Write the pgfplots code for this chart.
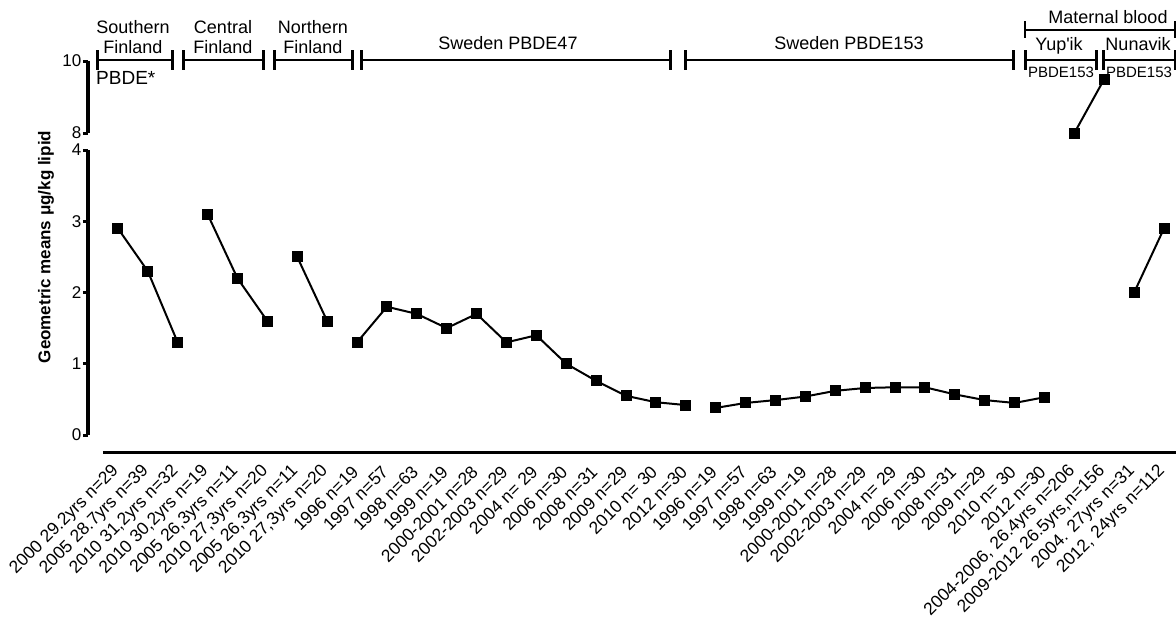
\documentclass[border=0pt]{standalone}
\usepackage{pgfplots}
\pgfplotsset{compat=1.18}
\usepackage{fontspec}
\setmainfont{Liberation Sans}
\begin{document}
\begin{tikzpicture}
\path[use as bounding box] (0bp,0bp) rectangle (1176bp,-630bp);
\pgfplotsset{
 dat/.style={black, solid, line width=2bp, mark=square*, mark size=4.5bp, mark options={solid, fill=black}},
 common/.style={scale only axis, width=1088bp, xmin=0, xmax=36.4, clip=false,
   axis line style={draw=none}, ytick pos=left, tick align=outside,
   major tick length=5bp, ytick style={line width=3bp, black},
   xtick style={draw=none},
   /pgf/number format/assume math mode=true,
   ticklabel style={font=\fontsize{17bp}{20bp}\selectfont},
   yticklabel style={inner sep=1.5bp},
 }
}
\begin{axis}[common, at={(88bp,-452bp)}, anchor=south west, height=302bp,
  ymin=-0.2386, ymax=4, ytick={0,1,2,3,4},
  xtick={1,...,36},
  xticklabels={{2000 29.2yrs n=29},{2005 28.7yrs n=39},{2010 31,2yrs n=32},{2010 30,2yrs n=19},{2005 26,3yrs n=11},{2010 27,3yrs n=20},{2005 26,3yrs n=11},{2010 27,3yrs n=20},
  {1996 n=19},{1997 n=57},{1998 n=63},{1999 n=19},{2000-2001 n=28},{2002-2003 n=29},{2004 n= 29},{2006 n=30},{2008 n=31},{2009 n=29},{2010 n= 30},{2012 n=30},
  {1996 n=19},{1997 n=57},{1998 n=63},{1999 n=19},{2000-2001 n=28},{2002-2003 n=29},{2004 n= 29},{2006 n=30},{2008 n=31},{2009 n=29},{2010 n= 30},{2012 n=30},
  {2004-2006, 26.4yrs n=206},{2009-2012 26.5yrs,n=156},{2004. 27yrs n=31},{2012, 24yrs n=112}},
  xticklabel style={yshift=-11bp, xshift=-1bp, rotate=45, anchor=east, inner sep=1bp, font=\fontsize{17.5bp}{20bp}\selectfont}]
\addplot[dat] coordinates {(1,2.9) (2,2.3) (3,1.3)};
\addplot[dat] coordinates {(4,3.1) (5,2.2) (6,1.6)};
\addplot[dat] coordinates {(7,2.5) (8,1.6)};
\addplot[dat] coordinates {(9,1.3) (10,1.8) (11,1.7) (12,1.5) (13,1.7) (14,1.3) (15,1.4) (16,1.0) (17,0.76) (18,0.55) (19,0.46) (20,0.42)};
\addplot[dat] coordinates {(21,0.38) (22,0.45) (23,0.49) (24,0.54) (25,0.62) (26,0.66) (27,0.67) (28,0.67) (29,0.57) (30,0.49) (31,0.45) (32,0.53)};
\addplot[dat] coordinates {(35,2.0) (36,2.9)};
\draw[line width=3bp] (axis cs:0,0) -- (axis cs:0,4);
\draw[line width=3bp] (axis cs:0.5,-0.2386) -- (axis cs:36.4,-0.2386);
\end{axis}
\begin{axis}[common, at={(88bp,-133bp)}, anchor=south west, height=72bp,
  ymin=8, ymax=10, ytick={8,10}, xtick=\empty]
\addplot[dat] coordinates {(33,8.0) (34,9.5)};
\draw[line width=3bp] (axis cs:0,8) -- (axis cs:0,10);
\end{axis}
% group brackets
\foreach \a/\b in {97/172,183/263,274/352,361/670,685/1013,1025/1096,1103/1175} {
  \draw[line width=2.5bp] (\a bp,-60bp) -- (\b bp,-60bp);
  \draw[line width=3bp] (\a bp,-50bp) -- (\a bp,-70bp);
  \draw[line width=3bp] (\b bp,-50bp) -- (\b bp,-70bp);
}
\draw[line width=1.5bp] (1025bp,-30bp) -- (1175bp,-30bp);
\draw[line width=1.5bp] (1025bp,-21bp) -- (1025bp,-38bp);
\draw[line width=1.5bp] (1175bp,-21bp) -- (1175bp,-38bp);
\begin{scope}[every node/.style={anchor=base, inner sep=0pt, font=\fontsize{18bp}{20bp}\selectfont}]
\node at (133bp,-33bp) {Southern};
\node at (133bp,-53bp) {Finland};
\node at (223bp,-33bp) {Central};
\node at (223bp,-53bp) {Finland};
\node at (313bp,-33bp) {Northern};
\node at (313bp,-53bp) {Finland};
\node at (508bp,-49bp) {Sweden PBDE47};
\node at (849bp,-49bp) {Sweden PBDE153};
\node at (1108bp,-23bp) {Maternal blood};
\node at (1059bp,-50bp) {Yup\textquotesingle ik};
\node at (1138bp,-50bp) {Nunavik};
\node[font=\fontsize{15bp}{17bp}\selectfont] at (1061bp,-77bp) {PBDE153};
\node[font=\fontsize{15bp}{17bp}\selectfont] at (1139bp,-77bp) {PBDE153};
\node[anchor=base west, font=\fontsize{19bp}{21bp}\selectfont] at (96bp,-84bp) {PBDE*};
\end{scope}
\node[rotate=90, font=\bfseries\fontsize{17bp}{20bp}\selectfont] at (46bp,-247bp) {Geometric means μg/kg lipid};
\end{tikzpicture}
\end{document}
